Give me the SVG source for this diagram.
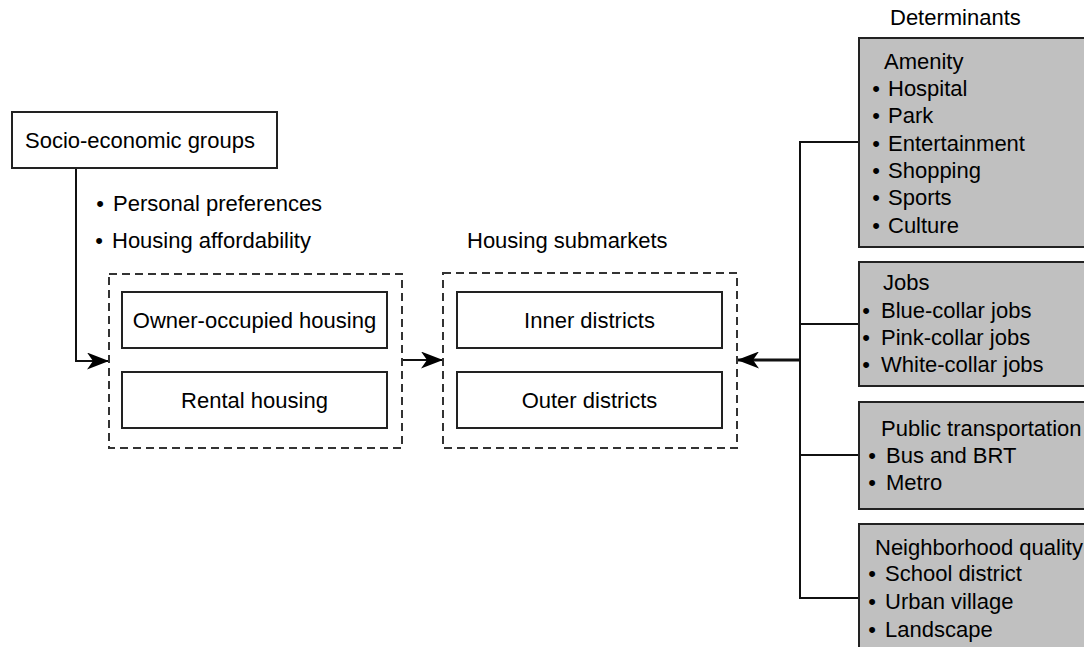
<svg xmlns="http://www.w3.org/2000/svg" width="1084" height="647" viewBox="0 0 1084 647">
<style>
text{font-family:"Liberation Sans",Arial,sans-serif;font-size:22px;fill:#000}
.b{text-anchor:middle}
.box{fill:#fff;stroke:#222;stroke-width:2}
.dash{fill:none;stroke:#333;stroke-width:2;stroke-dasharray:8,5}
.det{fill:#c0c0c0;stroke:#222;stroke-width:2}
.ln{fill:none;stroke:#111;stroke-width:2}
.thick{stroke-width:3}
.mid{text-anchor:middle}
</style>
<defs>
<marker id="arr" viewBox="0 0 22 17" refX="21" refY="8.5" markerWidth="22" markerHeight="17" markerUnits="userSpaceOnUse" orient="auto">
<path d="M0,0 L22,8.5 L0,17 L6,8.5 Z" fill="#000"/>
</marker>
</defs>
<g id="connectors">
<path class="ln" d="M76,168 V361 H108" marker-end="url(#arr)"/>
<path class="ln" d="M402,360 H442" marker-end="url(#arr)"/>
<path class="ln thick" d="M800,360 H738" marker-end="url(#arr)"/>
<path class="ln" d="M859,142 H800 V598 H859"/>
<path class="ln" d="M800,324 H859"/>
<path class="ln" d="M800,455 H859"/>
</g>
<g id="socio">
<rect class="box" x="12" y="112" width="265" height="56"/>
<text x="25" y="148">Socio-economic groups</text>
</g>
<g id="factors">
<text class="b" x="100" y="211">•</text><text x="113" y="211">Personal preferences</text>
<text class="b" x="99" y="248">•</text><text x="112" y="248">Housing affordability</text>
</g>
<g id="tenure">
<rect class="dash" x="109" y="274" width="293" height="174"/>
<g id="owner"><rect class="box" x="122" y="292" width="265" height="56"/><text class="mid" x="254.5" y="328">Owner-occupied housing</text></g>
<g id="rental"><rect class="box" x="122" y="372" width="265" height="56"/><text class="mid" x="254.5" y="408">Rental housing</text></g>
</g>
<g id="submarkets">
<text x="467" y="248">Housing submarkets</text>
<rect class="dash" x="443" y="273" width="294" height="175"/>
<g id="inner"><rect class="box" x="457" y="292" width="265" height="56"/><text class="mid" x="589.5" y="328">Inner districts</text></g>
<g id="outer"><rect class="box" x="457" y="372" width="265" height="56"/><text class="mid" x="589.5" y="408">Outer districts</text></g>
</g>
<text x="890" y="25">Determinants</text>
<g id="amenity">
<rect class="det" x="859" y="38" width="240" height="209"/>
<text x="884" y="69">Amenity</text>
<text class="b" x="876" y="96">•</text><text x="888" y="96">Hospital</text>
<text class="b" x="876" y="123">•</text><text x="888" y="123">Park</text>
<text class="b" x="876" y="151">•</text><text x="888" y="151">Entertainment</text>
<text class="b" x="876" y="178">•</text><text x="888" y="178">Shopping</text>
<text class="b" x="876" y="205">•</text><text x="888" y="205">Sports</text>
<text class="b" x="876" y="233">•</text><text x="888" y="233">Culture</text>
</g>
<g id="jobs">
<rect class="det" x="859" y="262" width="240" height="124"/>
<text x="883" y="290">Jobs</text>
<text class="b" x="866" y="318">•</text><text x="881" y="318">Blue-collar jobs</text>
<text class="b" x="866" y="345">•</text><text x="881" y="345">Pink-collar jobs</text>
<text class="b" x="866" y="372">•</text><text x="881" y="372">White-collar jobs</text>
</g>
<g id="transport">
<rect class="det" x="859" y="402" width="240" height="107"/>
<text x="881" y="436">Public transportation</text>
<text class="b" x="872" y="463">•</text><text x="886" y="463">Bus and BRT</text>
<text class="b" x="872" y="490">•</text><text x="886" y="490">Metro</text>
</g>
<g id="neighborhood">
<rect class="det" x="859" y="524" width="240" height="140"/>
<text x="875" y="555">Neighborhood quality</text>
<text class="b" x="872" y="581">•</text><text x="885" y="581">School district</text>
<text class="b" x="872" y="609">•</text><text x="885" y="609">Urban village</text>
<text class="b" x="872" y="637">•</text><text x="885" y="637">Landscape</text>
</g>
</svg>
